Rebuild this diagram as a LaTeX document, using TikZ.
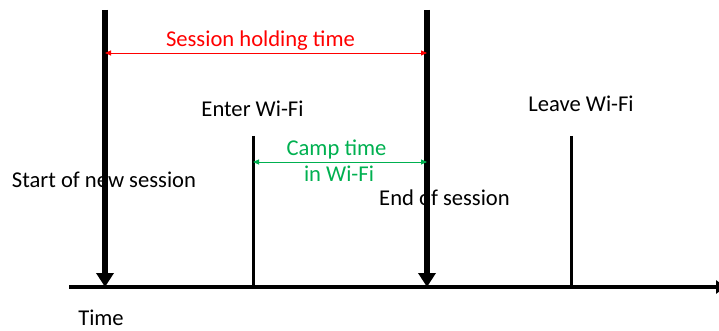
\documentclass[tikz,border=0pt]{standalone}
\usepackage{fontspec}
\setmainfont{Carlito}
\usetikzlibrary{arrows.meta}
\definecolor{ored}{RGB}{255,0,0}
\definecolor{ogreen}{RGB}{0,176,80}
\tikzset{
  lbl/.style={inner sep=0pt, anchor=base, font=\fontsize{22.6}{26}\selectfont},
  bigarrow/.style={line width=6pt, -{Triangle[length=14pt,width=17pt]}},
  thinmark/.style={line width=3pt},
  axis/.style={line width=4.5pt, -{Triangle[length=10pt,width=13pt]}},
  span/.style={line width=0.9pt, {Triangle[length=6pt,width=5pt]}-{Triangle[length=6pt,width=5pt]}}
}
\begin{document}
\begin{tikzpicture}[x=1pt,y=-1pt]
\useasboundingbox (0,0) rectangle (719,331);
% coordinates
\coordinate (axL) at (69,287);
\coordinate (axR) at (726,287);
\coordinate (s1top) at (105,10);
\coordinate (s1bot) at (105,287);
\coordinate (s2top) at (427,10);
\coordinate (s2bot) at (427,287);
\coordinate (entop) at (253,136);
\coordinate (enbot) at (253,287);
\coordinate (lvtop) at (571,136);
\coordinate (lvbot) at (571,287);
\coordinate (redL) at (105,53);
\coordinate (redR) at (427,53);
\coordinate (grnL) at (253,162);
\coordinate (grnR) at (427,162);
% lines
\draw[axis] (axL) -- (axR);
\draw[thinmark] (entop) -- (enbot);
\draw[thinmark] (lvtop) -- (lvbot);
\draw[bigarrow] (s1top) -- (s1bot);
\draw[bigarrow] (s2top) -- (s2bot);
\draw[span, ored] (redL) -- (redR);
\draw[span, ogreen] (grnL) -- (grnR);
% labels
\node[lbl, text=ored] (sht) at (260.5,47) {Session holding time};
\node[lbl] (enter) at (252.5,117) {Enter Wi-Fi};
\node[lbl] (leave) at (581,112) {Leave Wi-Fi};
\node[lbl, text=ogreen] (camp1) at (336.5,156) {Camp time};
\node[lbl, text=ogreen] (camp2) at (339,182) {in Wi-Fi};
\node[lbl] (start) at (104,187) {Start of new session};
\node[lbl] (endses) at (444.5,205) {End of session};
\node[lbl] (time) at (101,325) {Time};
\end{tikzpicture}
\end{document}
